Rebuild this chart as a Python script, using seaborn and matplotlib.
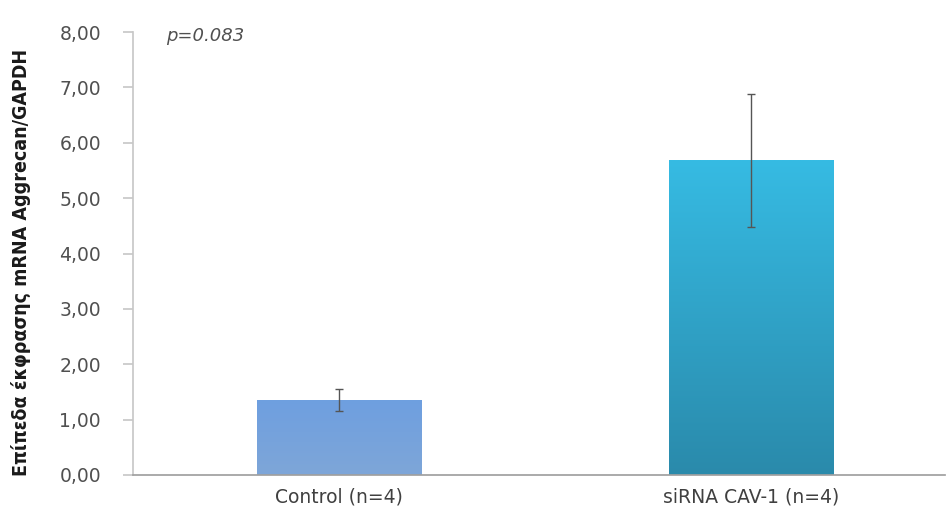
import numpy as np
import pandas as pd
import matplotlib
matplotlib.use("Agg")
import matplotlib.pyplot as plt
import seaborn as sns
from matplotlib.colors import LinearSegmentedColormap

categories = ["Control (n=4)", "siRNA CAV-1 (n=4)"]
means = [1.36, 5.68]
errors = [0.20, 1.20]
yticks = [0, 1, 2, 3, 4, 5, 6, 7, 8]
ytick_labels = ["0,00", "1,00", "2,00", "3,00", "4,00", "5,00", "6,00", "7,00", "8,00"]
p_text = "p=0.083"
ylabel = "Επίπεδα έκφρασης mRNA Aggrecan/GAPDH"

sns.set_theme(style="white")
plt.rcParams['font.family'] = ['DejaVu Sans']

fig = plt.figure(figsize=(9.49, 5.13), dpi=100)
ax = fig.add_axes([133/949, 38/513, 812/949, 443/513])

df = pd.DataFrame({"cat": categories, "val": means})
sns.barplot(data=df, x="cat", y="val", hue="cat",
            palette=["#7aa4dc", "#30a8d2"], width=0.4, ax=ax, legend=False,
            edgecolor="none", errorbar=None)

grads = [("#6e9fe0", "#7ea6d8"), ("#36bbe3", "#2a8aab")]
for patch, (ctop, cbot) in zip(ax.patches, grads):
    x0, y0 = patch.get_x(), patch.get_y()
    w, h = patch.get_width(), patch.get_height()
    cmap = LinearSegmentedColormap.from_list("g", [cbot, ctop])
    grad = np.linspace(0, 1, 256).reshape(-1, 1)
    im = ax.imshow(grad, extent=[x0, x0 + w, y0, y0 + h], origin="lower",
                   cmap=cmap, aspect="auto", zorder=patch.get_zorder() + 0.1)
    im.set_clip_path(patch)

ax.errorbar(x=[0, 1], y=means, yerr=errors, fmt="none", ecolor="#555555",
            elinewidth=1.0, capsize=3, capthick=1.0, zorder=5)

ax.set_xlim(-0.5, 1.47)
ax.set_ylim(0, 8)
ax.set_yticks(yticks)
ax.set_yticklabels(ytick_labels)
ax.set_xlabel("")
ax.set_ylabel(ylabel, fontsize=14, fontweight="bold", color="#1a1a1a",
              fontstretch="condensed")
ax.yaxis.set_label_coords(-0.126, 0.48)

for s in ["top", "right"]:
    ax.spines[s].set_visible(False)
ax.spines["left"].set_color("#c8c8c8")
ax.spines["bottom"].set_color("#a0a0a0")
ax.tick_params(axis="y", left=True, length=7, color="#c8c8c8",
               labelsize=13.5, labelcolor="#505050", pad=16)
ax.tick_params(axis="x", bottom=False, labelsize=13.5, labelcolor="#404040", pad=3)

ax.text(-0.42, 7.92, p_text, fontstyle="italic", fontsize=13, color="#505050",
        va="center", ha="left")

fig.savefig("out.png", dpi=100, facecolor="white")
